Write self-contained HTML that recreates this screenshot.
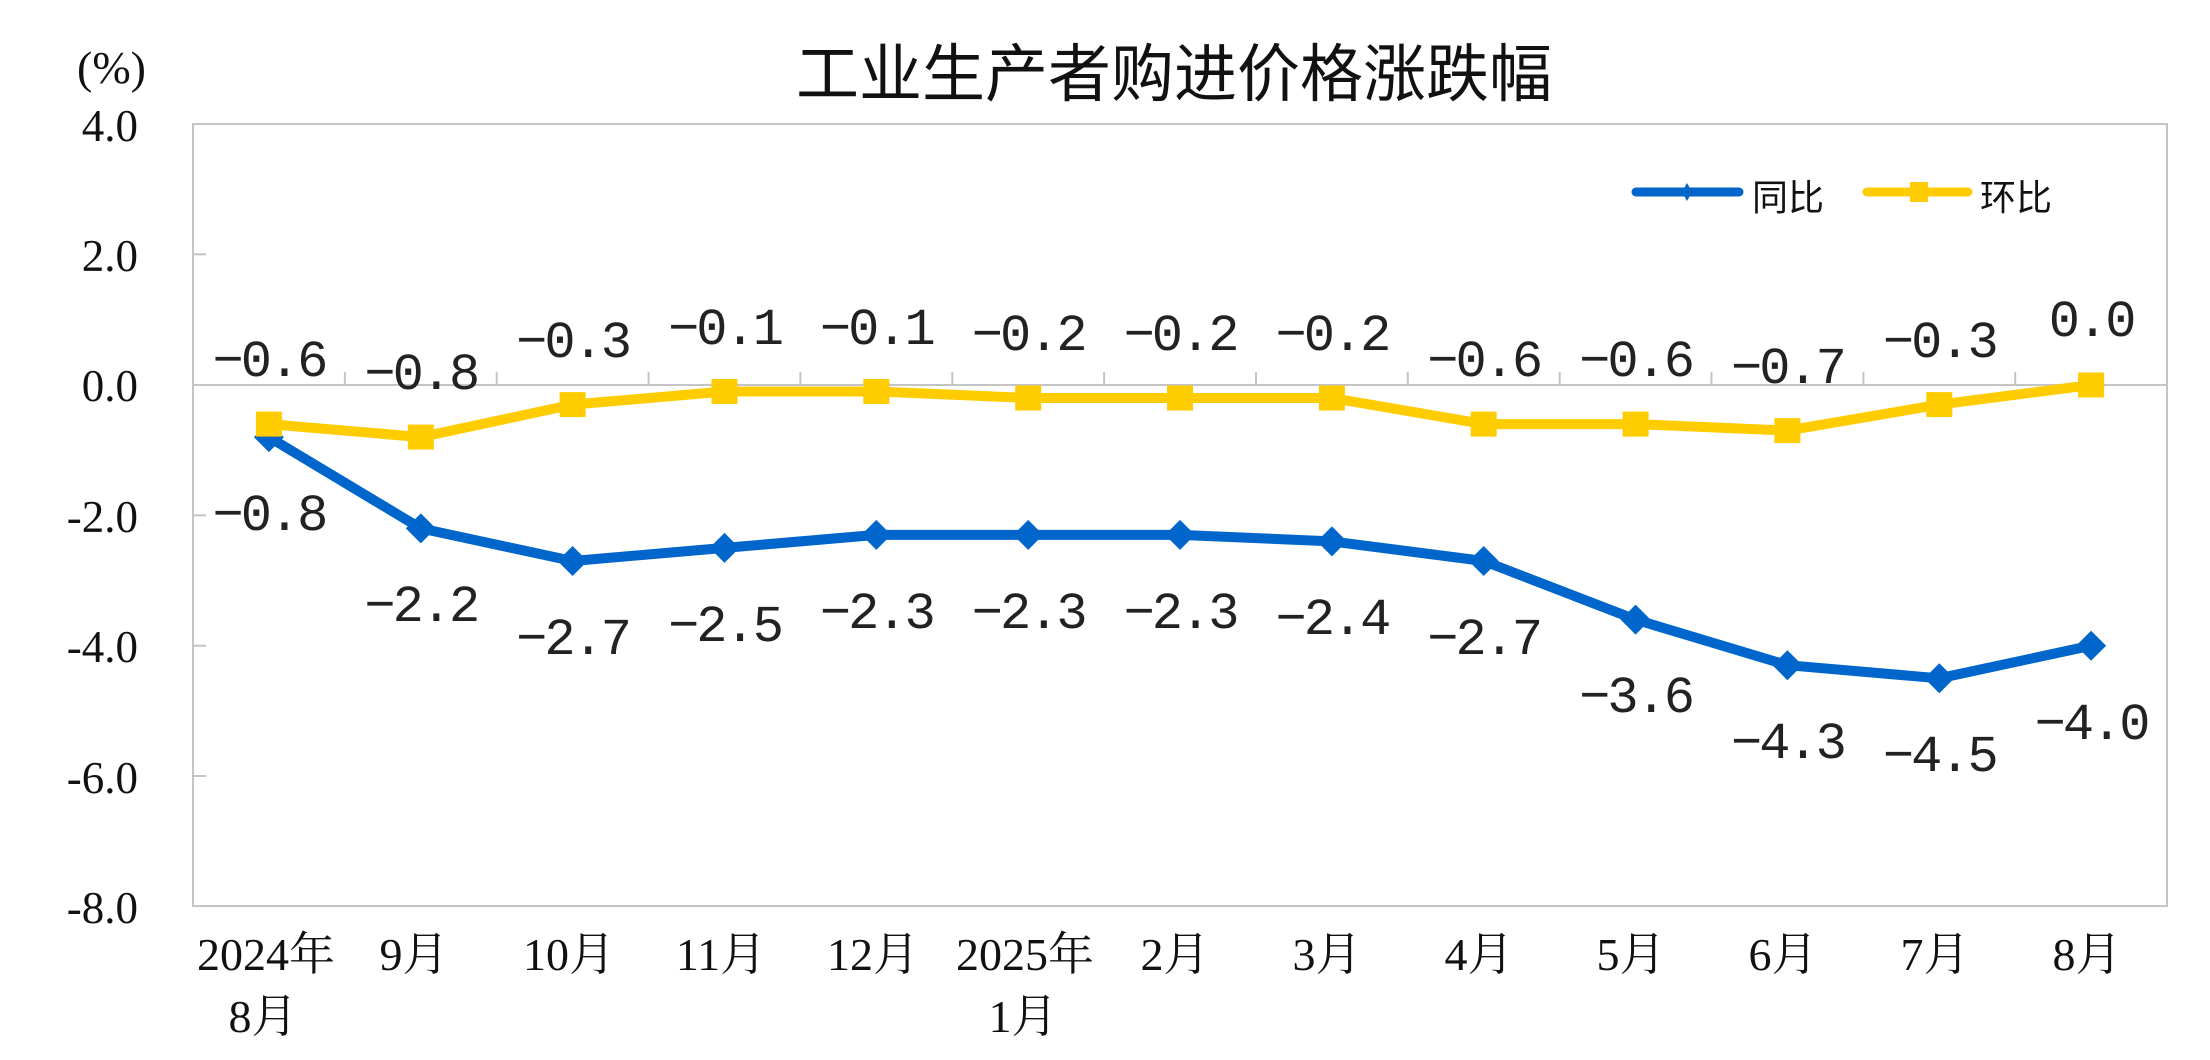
<!DOCTYPE html>
<html>
<head>
<meta charset="utf-8">
<style>
  html,body{margin:0;padding:0;background:#fff;}
  svg{display:block;}
  .ax{font-family:"Liberation Serif","Noto Serif CJK SC",serif;font-size:45px;fill:#111;}
  .xl{font-family:"Liberation Serif","Noto Serif CJK SC",serif;font-size:46px;fill:#111;}
  .dl{font-family:"Liberation Mono","Noto Sans CJK SC",monospace;font-size:52px;letter-spacing:-3px;fill:#222;}
  .tt{font-family:"Liberation Sans","Noto Sans CJK SC",sans-serif;font-size:63px;fill:#111;}
  .lg{font-family:"Liberation Sans","Noto Sans CJK SC",sans-serif;font-size:36px;fill:#111;}
</style>
</head>
<body>
<svg width="2210" height="1060" viewBox="0 0 2210 1060" xmlns="http://www.w3.org/2000/svg">
  <rect x="0" y="0" width="2210" height="1060" fill="#fff"/>

  <!-- title -->
  <text class="tt" x="1174" y="96" text-anchor="middle">工业生产者购进价格涨跌幅</text>
  <text class="ax" x="77" y="83" style="font-size:46px">(%)</text>

  <!-- plot border -->
  <rect x="193" y="124" width="1974" height="782" fill="none" stroke="#c4c4c4" stroke-width="2"/>

  <!-- y ticks -->
  <g stroke="#c4c4c4" stroke-width="2">
    <line x1="193" y1="254.3" x2="206" y2="254.3"/>
    <line x1="193" y1="515.3" x2="206" y2="515.3"/>
    <line x1="193" y1="645.7" x2="206" y2="645.7"/>
    <line x1="193" y1="776" x2="206" y2="776"/>
  </g>

  <!-- zero axis line & category ticks -->
  <g stroke="#c4c4c4" stroke-width="2">
    <line x1="193" y1="385" x2="2167" y2="385"/>
    <line x1="344.9" y1="385" x2="344.9" y2="372"/>
    <line x1="496.7" y1="385" x2="496.7" y2="372"/>
    <line x1="648.6" y1="385" x2="648.6" y2="372"/>
    <line x1="800.4" y1="385" x2="800.4" y2="372"/>
    <line x1="952.3" y1="385" x2="952.3" y2="372"/>
    <line x1="1104.1" y1="385" x2="1104.1" y2="372"/>
    <line x1="1256" y1="385" x2="1256" y2="372"/>
    <line x1="1407.8" y1="385" x2="1407.8" y2="372"/>
    <line x1="1559.7" y1="385" x2="1559.7" y2="372"/>
    <line x1="1711.5" y1="385" x2="1711.5" y2="372"/>
    <line x1="1863.4" y1="385" x2="1863.4" y2="372"/>
    <line x1="2015.2" y1="385" x2="2015.2" y2="372"/>
  </g>

  <!-- y labels -->
  <g class="ax" text-anchor="end">
    <text x="138" y="141">4.0</text>
    <text x="138" y="271">2.0</text>
    <text x="138" y="401">0.0</text>
    <text x="138" y="532">-2.0</text>
    <text x="138" y="662">-4.0</text>
    <text x="138" y="793">-6.0</text>
    <text x="138" y="923">-8.0</text>
  </g>

  <!-- x labels -->
  <g class="xl" text-anchor="middle">
    <text x="266" y="970">2024年</text>
    <text x="263" y="1032">8月</text>
    <text x="414" y="970">9月</text>
    <text x="569" y="970">10月</text>
    <text x="721" y="970">11月</text>
    <text x="873" y="970">12月</text>
    <text x="1025" y="970">2025年</text>
    <text x="1023" y="1032">1月</text>
    <text x="1175" y="970">2月</text>
    <text x="1327" y="970">3月</text>
    <text x="1479" y="970">4月</text>
    <text x="1631" y="970">5月</text>
    <text x="1783" y="970">6月</text>
    <text x="1935" y="970">7月</text>
    <text x="2087" y="970">8月</text>
  </g>

  <!-- blue series 同比 -->
  <polyline fill="none" stroke="#0066CC" stroke-width="10" stroke-linejoin="round"
    points="268.9,437.1 420.8,528.4 572.6,561.0 724.5,547.9 876.3,534.9 1028.2,534.9 1180.0,534.9 1331.9,541.4 1483.7,561.0 1635.6,619.6 1787.4,665.2 1939.3,678.3 2091.1,645.7"/>
  <g fill="#0066CC">
    <polygon points="268.9,422.1 283.9,437.1 268.9,452.1 253.9,437.1"/>
    <polygon points="420.8,513.4 435.8,528.4 420.8,543.4 405.8,528.4"/>
    <polygon points="572.6,546.0 587.6,561.0 572.6,576.0 557.6,561.0"/>
    <polygon points="724.5,532.9 739.5,547.9 724.5,562.9 709.5,547.9"/>
    <polygon points="876.3,519.9 891.3,534.9 876.3,549.9 861.3,534.9"/>
    <polygon points="1028.2,519.9 1043.2,534.9 1028.2,549.9 1013.2,534.9"/>
    <polygon points="1180.0,519.9 1195.0,534.9 1180.0,549.9 1165.0,534.9"/>
    <polygon points="1331.9,526.4 1346.9,541.4 1331.9,556.4 1316.9,541.4"/>
    <polygon points="1483.7,546.0 1498.7,561.0 1483.7,576.0 1468.7,561.0"/>
    <polygon points="1635.6,604.6 1650.6,619.6 1635.6,634.6 1620.6,619.6"/>
    <polygon points="1787.4,650.2 1802.4,665.2 1787.4,680.2 1772.4,665.2"/>
    <polygon points="1939.3,663.3 1954.3,678.3 1939.3,693.3 1924.3,678.3"/>
    <polygon points="2091.1,630.7 2106.1,645.7 2091.1,660.7 2076.1,645.7"/>
  </g>

  <!-- yellow series 环比 -->
  <polyline fill="none" stroke="#FFCC00" stroke-width="10" stroke-linejoin="round"
    points="268.9,424.1 420.8,437.1 572.6,404.6 724.5,391.5 876.3,391.5 1028.2,398.0 1180.0,398.0 1331.9,398.0 1483.7,424.1 1635.6,424.1 1787.4,430.6 1939.3,404.6 2091.1,385.0"/>
  <g fill="#FFCC00">
    <rect x="255.9" y="411.6" width="26" height="25"/>
    <rect x="407.8" y="424.6" width="26" height="25"/>
    <rect x="559.6" y="392.1" width="26" height="25"/>
    <rect x="711.5" y="379.0" width="26" height="25"/>
    <rect x="863.3" y="379.0" width="26" height="25"/>
    <rect x="1015.2" y="385.5" width="26" height="25"/>
    <rect x="1167.0" y="385.5" width="26" height="25"/>
    <rect x="1318.9" y="385.5" width="26" height="25"/>
    <rect x="1470.7" y="411.6" width="26" height="25"/>
    <rect x="1622.6" y="411.6" width="26" height="25"/>
    <rect x="1774.4" y="418.1" width="26" height="25"/>
    <rect x="1926.3" y="392.1" width="26" height="25"/>
    <rect x="2078.1" y="372.5" width="26" height="25"/>
  </g>

  <!-- yellow labels -->
  <g class="dl" text-anchor="middle">
    <text x="268.9" y="376">−0.6</text>
    <text x="420.8" y="389">−0.8</text>
    <text x="572.6" y="357">−0.3</text>
    <text x="724.5" y="344">−0.1</text>
    <text x="876.3" y="344">−0.1</text>
    <text x="1028.2" y="350">−0.2</text>
    <text x="1180.0" y="350">−0.2</text>
    <text x="1331.9" y="350">−0.2</text>
    <text x="1483.7" y="376">−0.6</text>
    <text x="1635.6" y="376">−0.6</text>
    <text x="1787.4" y="383">−0.7</text>
    <text x="1939.3" y="357">−0.3</text>
    <text x="2091.1" y="336">0.0</text>
  </g>

  <!-- blue labels -->
  <g class="dl" text-anchor="middle">
    <text x="268.9" y="530">−0.8</text>
    <text x="420.8" y="621">−2.2</text>
    <text x="572.6" y="654">−2.7</text>
    <text x="724.5" y="641">−2.5</text>
    <text x="876.3" y="628">−2.3</text>
    <text x="1028.2" y="628">−2.3</text>
    <text x="1180.0" y="628">−2.3</text>
    <text x="1331.9" y="634">−2.4</text>
    <text x="1483.7" y="654">−2.7</text>
    <text x="1635.6" y="712">−3.6</text>
    <text x="1787.4" y="758">−4.3</text>
    <text x="1939.3" y="771">−4.5</text>
    <text x="2091.1" y="739">−4.0</text>
  </g>

  <!-- legend -->
  <line x1="1636" y1="192" x2="1739" y2="192" stroke="#0066CC" stroke-width="9" stroke-linecap="round"/>
  <polygon points="1687,183 1692,192 1687,201 1682,192" fill="#0066CC"/>
  <text class="lg" x="1752" y="210">同比</text>
  <line x1="1867" y1="192" x2="1968" y2="192" stroke="#FFCC00" stroke-width="9" stroke-linecap="round"/>
  <rect x="1910" y="182" width="18" height="20" fill="#FFCC00"/>
  <text class="lg" x="1980" y="210">环比</text>
</svg>
</body>
</html>
